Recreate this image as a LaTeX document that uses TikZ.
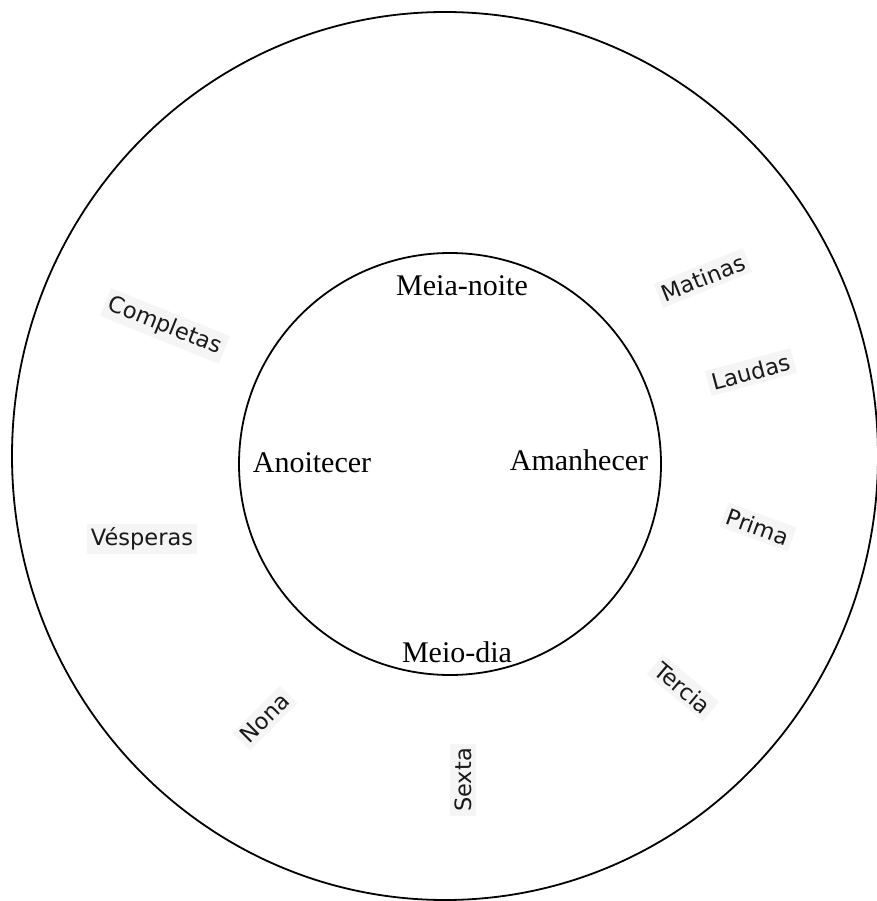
\documentclass[tikz,border=0pt]{standalone}
\usepackage{fontspec}
\setmainfont{Liberation Serif}
\newfontfamily\hourfont{DejaVu Sans}
\begin{document}
\begin{tikzpicture}[x=1pt,y=-1pt,
  ring/.style={draw=black,line width=1.8pt},
  timelabel/.style={font=\fontsize{30}{36}\selectfont, anchor=base, inner sep=0pt},
  hourlabel/.style={font=\hourfont\fontsize{22.5}{26}\selectfont, fill=black!4, inner sep=4pt, text=black!90}]
\useasboundingbox (0,0) rectangle (876,901);
\fill[white] (0,0) rectangle (876,901);
\draw[ring] (445,456) ellipse [x radius=433pt, y radius=444pt];
\draw[ring] (450,464) circle [radius=211pt];
% inner labels
\node[timelabel] (meianoite) at (462,295) {Meia-noite};
\node[timelabel] (anoitecer) at (312,472) {Anoitecer};
\node[timelabel] (amanhecer) at (579,470) {Amanhecer};
\node[timelabel] (meiodia) at (457,662) {Meio-dia};
% outer labels
\node[hourlabel, rotate=22] (matinas) at (703,278) {Matinas};
\node[hourlabel, rotate=15] (laudas) at (751,372) {Laudas};
\node[hourlabel, rotate=-20] (prima) at (758,527) {Prima};
\node[hourlabel, rotate=-40] (tercia) at (683,688) {Tercia};
\node[hourlabel, rotate=90] (sexta) at (463,780) {Sexta};
\node[hourlabel, rotate=45] (nona) at (265,718) {Nona};
\node[hourlabel] (vesperas) at (142,539) {Vésperas};
\node[hourlabel, rotate=-22] (completas) at (165,326) {Completas};
\end{tikzpicture}
\end{document}
